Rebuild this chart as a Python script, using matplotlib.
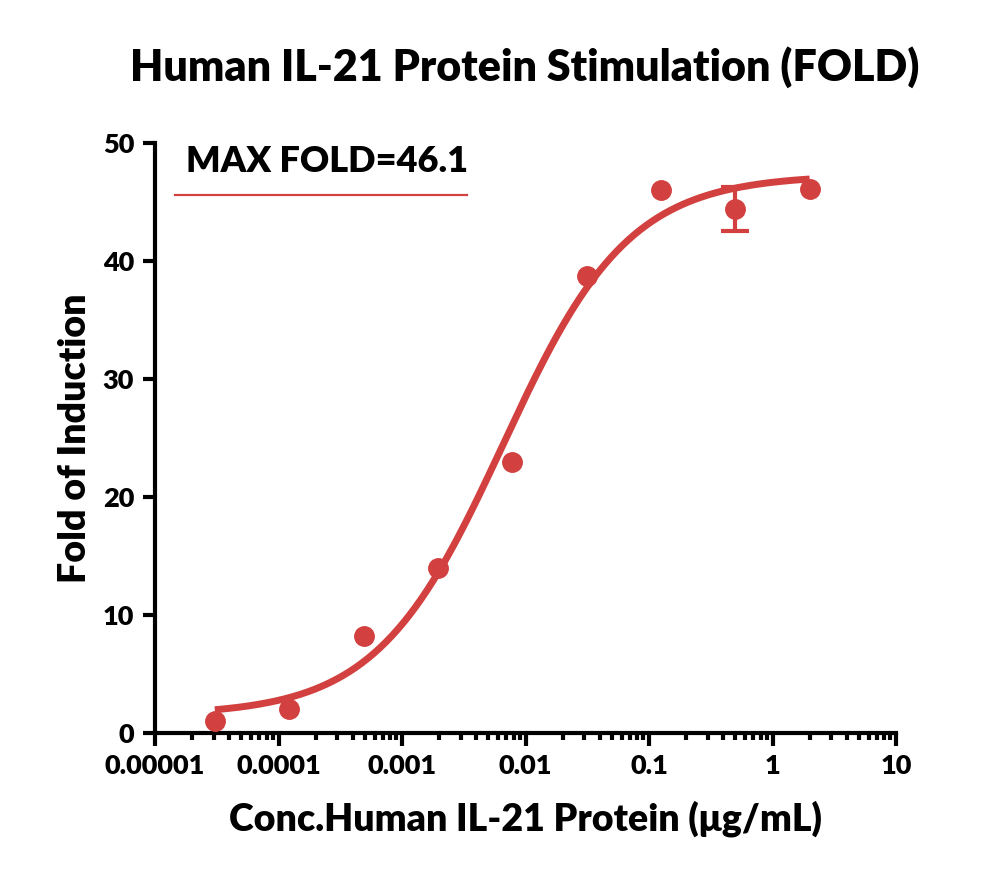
import numpy as np
import matplotlib.pyplot as plt
from matplotlib.ticker import LogLocator, FixedLocator, NullFormatter

plt.rcParams['font.family'] = ['Lato', 'DejaVu Sans']
plt.rcParams['font.weight'] = 'heavy'

# Datos
conc = [3.05e-5, 1.22e-4, 4.88e-4, 1.95e-3, 7.8e-3, 0.03125, 0.125, 0.5, 2.0]
fold = [1.0, 2.0, 8.2, 14.0, 23.0, 38.7, 46.0, 44.4, 46.1]
fold_err = [0, 0, 0, 0, 0, 0, 0, 1.85, 0]

# Parámetros del ajuste 4PL (estimados del gráfico)
bottom = 1.5
top = 47.3
ec50 = 0.00655
hill = 0.85

x_ticks = [1e-5, 1e-4, 1e-3, 1e-2, 1e-1, 1, 10]
x_tick_labels = ['0.00001', '0.0001', '0.001', '0.01', '0.1', '1', '10']
y_ticks = [0, 10, 20, 30, 40, 50]

color = '#d2403f'
peso = 'heavy'

fig = plt.figure(figsize=(10, 8.91), dpi=100)
ax = fig.add_axes([0.155, 0.1773, 0.741, 0.6622])

# Curva ajustada
xs = np.logspace(np.log10(conc[0]), np.log10(conc[-1]), 300)
ys = bottom + (top - bottom) / (1 + (ec50 / xs) ** hill)
ax.plot(xs, ys, color=color, lw=5, solid_capstyle='butt', zorder=2)

# Puntos y barra de error
yerr = [e if e > 0 else np.nan for e in fold_err]
ax.errorbar(conc, fold, yerr=yerr, fmt='o', color=color, ms=14,
            elinewidth=3, capsize=10, capthick=3, zorder=3)

ax.set_xscale('log')
ax.set_xlim(1e-5, 10)
ax.set_ylim(0, 50)
ax.xaxis.set_major_locator(FixedLocator(x_ticks))
ax.set_xticklabels(x_tick_labels)
ax.xaxis.set_minor_locator(LogLocator(base=10, subs=np.arange(2, 10)))
ax.xaxis.set_minor_formatter(NullFormatter())
ax.set_yticks(y_ticks)

for s in ['top', 'right']:
    ax.spines[s].set_visible(False)
for s in ['left', 'bottom']:
    ax.spines[s].set_linewidth(3)
ax.tick_params(axis='both', which='major', width=3, length=9, labelsize=19.5, pad=6)
ax.tick_params(axis='x', which='minor', width=3, length=5)
for lab in ax.get_xticklabels() + ax.get_yticklabels():
    lab.set_fontweight(peso)

ax.set_xlabel('Conc.Human IL-21 Protein (μg/mL)', fontsize=27, fontweight=peso, labelpad=16)
ax.set_ylabel('Fold of Induction', fontsize=27, fontweight=peso, labelpad=8)
fig.text(0.525, 0.925, 'Human IL-21 Protein Stimulation (FOLD)', ha='center', va='center',
         fontsize=31, fontweight=peso)

# Etiqueta MAX FOLD con línea
ax.text(0.232, 0.968, 'MAX FOLD=46.1', transform=ax.transAxes, ha='center', va='center',
        fontsize=26, fontweight=peso)
ax.plot([0.027, 0.421], [0.912, 0.912], transform=ax.transAxes, color=color, lw=1.6, clip_on=False)

fig.savefig('out.png', dpi=100)
